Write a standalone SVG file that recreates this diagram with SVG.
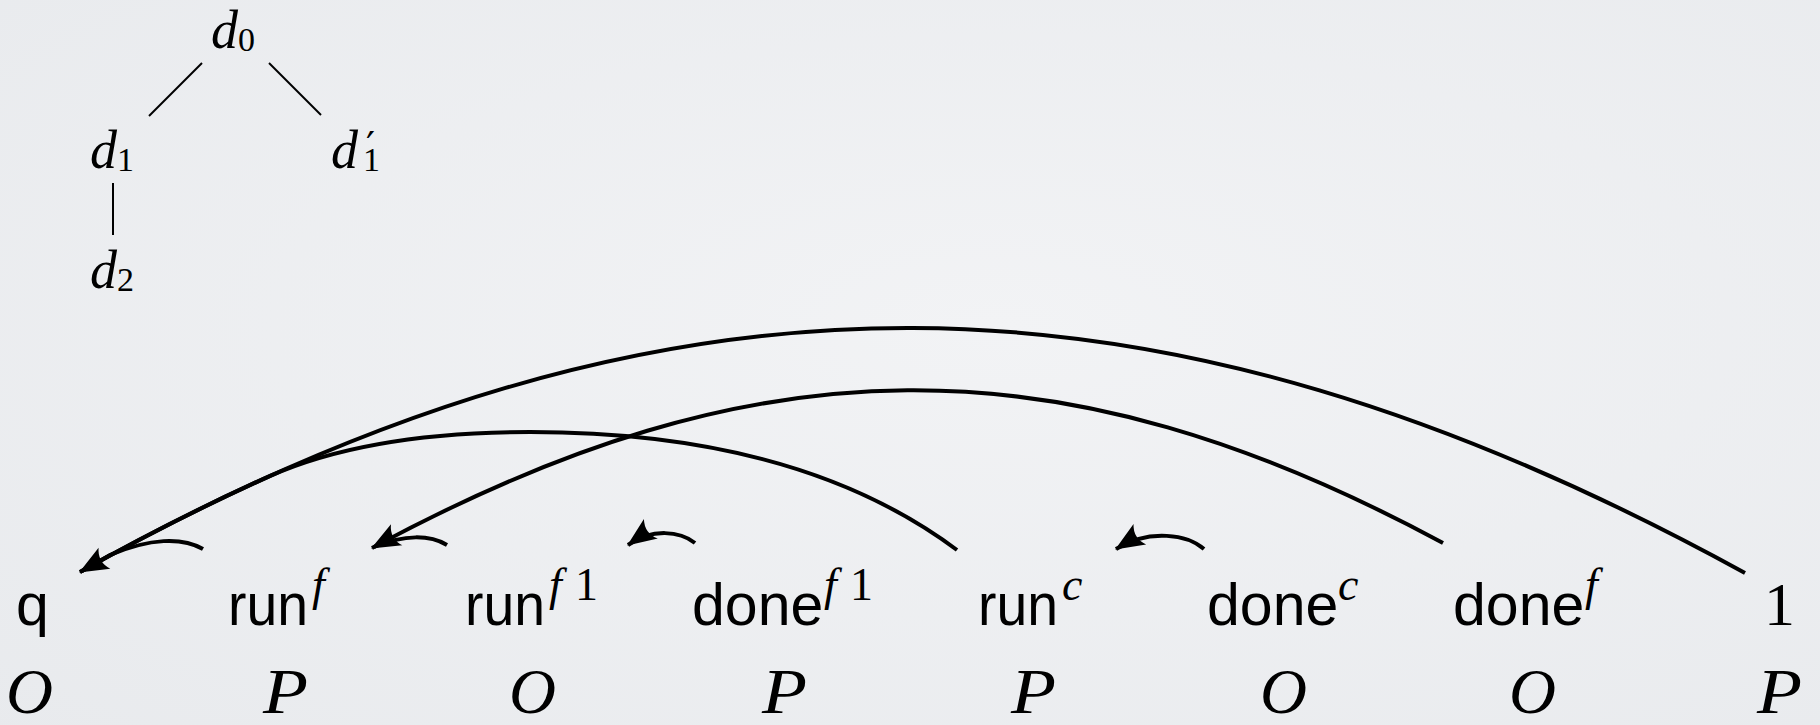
<svg xmlns="http://www.w3.org/2000/svg" width="1820" height="725" viewBox="0 0 1820 725">
<defs>
<radialGradient id="bg" cx="0.55" cy="0.45" r="0.8">
<stop offset="0" stop-color="#f2f3f5"/>
<stop offset="1" stop-color="#e8eaed"/>
</radialGradient>
<marker id="head" markerUnits="userSpaceOnUse" viewBox="-32 -16 36 32" markerWidth="36" markerHeight="32" refX="0" refY="0" orient="auto">
<path d="M1,0 L-28,-12 Q-20,0 -28,12 Z" fill="#000"/>
</marker>
<style>
.mi{font-family:"Liberation Serif",serif;font-style:italic;fill:#000}
.rm{font-family:"Liberation Serif",serif;font-style:normal;fill:#000}
.sf{font-family:"Liberation Sans",Arial,sans-serif;font-size:59px;fill:#000}
.sup{font-size:46px}
.tree{font-size:54px}
.sub{font-size:34px;font-style:normal}
.prime{font-family:"DejaVu Serif",serif;font-size:40px;font-style:normal}
.pl{font-size:64px}
.edge{stroke:#000;stroke-width:2;fill:none}
.arc{stroke:#000;stroke-width:4;fill:none;stroke-linecap:butt}
</style>
</defs>
<rect width="1820" height="725" fill="url(#bg)"/>

<g id="tree-edges">
<line class="edge" x1="202" y1="63" x2="149" y2="116"/>
<line class="edge" x1="269" y1="63" x2="321" y2="115"/>
<line class="edge" x1="113" y1="183" x2="113" y2="235"/>
</g>
<g id="d0"><text class="mi tree" x="211" y="48">d<tspan class="sub" dy="3">0</tspan></text></g>
<g id="d1"><text class="mi tree" x="90" y="168">d<tspan class="sub" dy="3">1</tspan></text></g>
<g id="d1p"><text class="mi tree" x="331" y="168">d<tspan class="prime" x="366" dy="-8">′</tspan><tspan class="sub" x="363" dy="11">1</tspan></text></g>
<g id="d2"><text class="mi tree" x="90" y="288">d<tspan class="sub" dy="3">2</tspan></text></g>

<g id="connectors">
<path class="arc" d="M1745,573 C1157,250 668,243 80,572" marker-end="url(#head)"/>
<path class="arc" d="M1443,543 C1059,336 756,341 372,548" marker-end="url(#head)"/>
<path class="arc" d="M957,550 C851,470.7 708.7,432 530,432 Q370,432 270.7,475.6 C208.2,503.7 144.7,535.8 80,572"/>
<path class="arc" d="M203,549 C182,537 150,538 110,555 L82,571"/>
<path class="arc" d="M447,545 C430,535 405,534 374,547"/>
<path class="arc" d="M695,543 C680,531 652,528 628,545" marker-end="url(#head)"/>
<path class="arc" d="M1204,549 C1188,535 1150,528 1116,549" marker-end="url(#head)"/>
</g>

<g id="n-q"><text class="sf" x="16" y="625">q</text><text class="mi pl" x="6" y="713" textLength="47" lengthAdjust="spacingAndGlyphs">O</text></g>
<g id="n-runf"><text class="sf" x="228" y="625" textLength="80" lengthAdjust="spacingAndGlyphs">run</text><text class="mi sup" x="312" y="600">f</text><text class="mi pl" x="263" y="713" textLength="45" lengthAdjust="spacingAndGlyphs">P</text></g>
<g id="n-runf1"><text class="sf" x="465" y="625" textLength="80" lengthAdjust="spacingAndGlyphs">run</text><text class="mi sup" x="549" y="600">f</text><text class="rm sup" x="575" y="600">1</text><text class="mi pl" x="509" y="713" textLength="47" lengthAdjust="spacingAndGlyphs">O</text></g>
<g id="n-donef1"><text class="sf" x="692" y="625">done</text><text class="mi sup" x="824" y="600">f</text><text class="rm sup" x="850" y="600">1</text><text class="mi pl" x="762" y="713" textLength="45" lengthAdjust="spacingAndGlyphs">P</text></g>
<g id="n-runc"><text class="sf" x="978" y="625" textLength="80" lengthAdjust="spacingAndGlyphs">run</text><text class="mi sup" x="1062" y="600">c</text><text class="mi pl" x="1011" y="713" textLength="45" lengthAdjust="spacingAndGlyphs">P</text></g>
<g id="n-donec"><text class="sf" x="1207" y="625">done</text><text class="mi sup" x="1338" y="600">c</text><text class="mi pl" x="1260" y="713" textLength="47" lengthAdjust="spacingAndGlyphs">O</text></g>
<g id="n-donef"><text class="sf" x="1453" y="625">done</text><text class="mi sup" x="1585" y="600">f</text><text class="mi pl" x="1509" y="713" textLength="47" lengthAdjust="spacingAndGlyphs">O</text></g>
<g id="n-1"><text class="rm" style="font-size:62px" x="1764" y="625">1</text><text class="mi pl" x="1757" y="713" textLength="45" lengthAdjust="spacingAndGlyphs">P</text></g>
</svg>
